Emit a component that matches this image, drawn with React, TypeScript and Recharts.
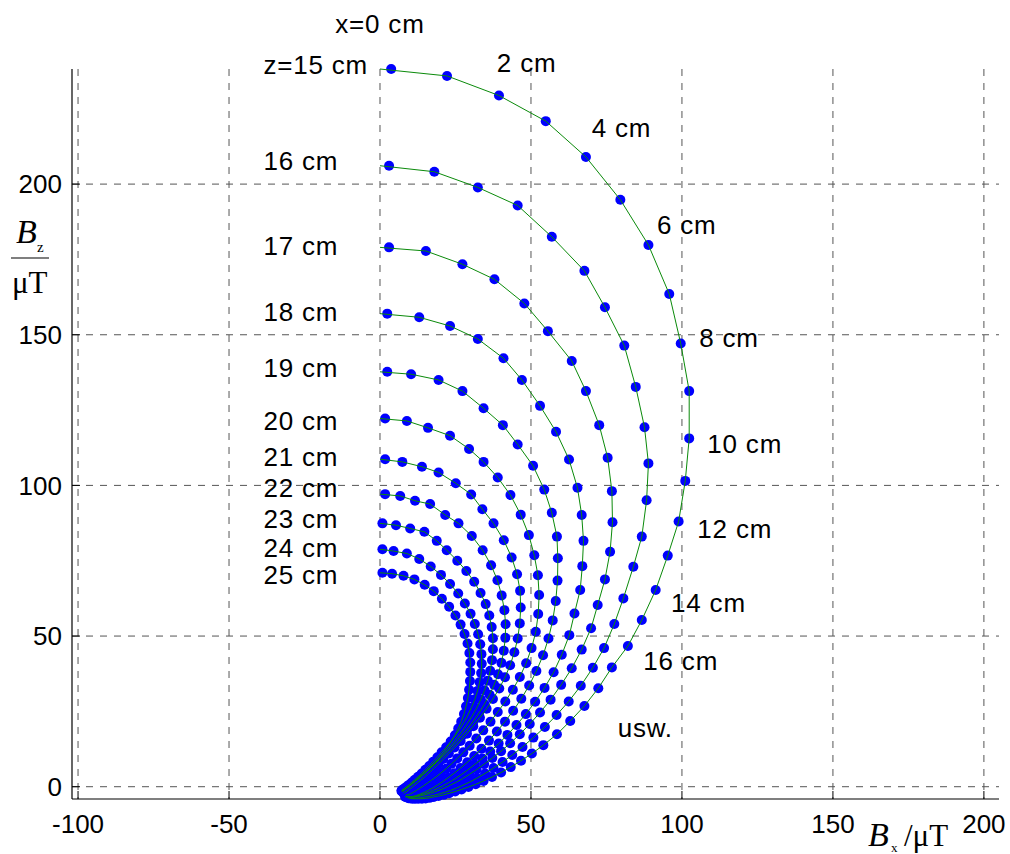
import React from 'react';
import { ScatterChart, Scatter, XAxis, YAxis, CartesianGrid, ReferenceDot } from 'recharts';

// Bx / Bz (µT) measured at x = 0, 1, 2, ... cm for each height z
const z15: number[][] = [[3.7,238.2],[22.2,235.9],[39.4,229.4],[54.9,220.9],[68.2,209.0],[79.6,194.8],[88.9,179.8],[95.8,163.5],[99.6,147.1],[102.4,131.3],[102.4,115.6],[101.1,101.5],[98.9,88.0],[95.3,76.7],[91.3,65.3],[86.7,55.3],[82.1,46.7],[76.8,39.6],[72.3,32.7],[67.7,26.8],[63.0,21.8],[58.6,17.4],[54.1,13.8],[50.3,11.0],[46.7,8.6],[43.3,6.5],[40.1,4.7],[37.1,3.2],[34.3,1.9],[31.7,0.8],[29.3,-0.1],[27.0,-0.9],[24.9,-1.6],[22.9,-2.2],[21.1,-2.7],[19.4,-3.1],[17.8,-3.4],[16.4,-3.7],[15.1,-3.9],[13.9,-4.0],[12.8,-4.0],[11.8,-4.0],[10.9,-4.0],[10.1,-3.9],[9.4,-3.8]];
const z16: number[][] = [[3.0,206.1],[18.0,204.1],[32.4,198.9],[45.6,192.9],[56.9,182.5],[67.7,171.2],[74.5,159.1],[80.9,146.4],[84.7,132.7],[87.6,119.3],[88.9,107.3],[88.3,95.1],[86.7,83.0],[83.9,73.0],[80.6,62.5],[77.6,54.0],[74.2,46.0],[70.5,39.5],[66.5,33.5],[62.5,28.3],[58.5,23.8],[54.6,19.8],[50.8,16.3],[47.2,13.2],[43.8,10.5],[40.6,8.2],[37.6,6.2],[34.8,4.4],[32.2,2.9],[29.8,1.6],[27.5,0.5],[25.4,-0.4],[23.4,-1.2],[21.6,-1.8],[19.9,-2.3],[18.3,-2.7],[16.9,-3.0],[15.6,-3.3],[14.4,-3.5],[13.3,-3.7],[12.3,-3.8],[11.4,-3.8],[10.6,-3.8],[9.9,-3.7]];
const z17: number[][] = [[3.0,179.0],[15.2,177.8],[27.3,173.4],[37.9,168.4],[47.8,160.4],[55.6,151.2],[63.5,141.3],[68.2,131.3],[72.6,120.0],[75.4,109.2],[76.8,98.1],[77.0,87.8],[76.2,78.0],[74.5,68.8],[72.1,60.3],[69.9,52.6],[66.8,45.5],[63.5,39.3],[60.0,33.8],[56.5,28.9],[53.0,24.6],[49.6,20.8],[46.3,17.4],[43.1,14.4],[40.1,11.8],[37.2,9.5],[34.5,7.5],[32.0,5.7],[29.6,4.1],[27.4,2.7],[25.3,1.5],[23.3,0.5],[21.5,-0.4],[19.8,-1.1],[18.2,-1.7],[16.7,-2.2],[15.3,-2.6],[14.0,-2.9],[12.8,-3.2],[11.7,-3.4],[10.7,-3.5],[9.8,-3.5],[9.0,-3.5]];
const z18: number[][] = [[2.4,157.0],[13.0,155.8],[23.2,152.9],[32.4,148.6],[40.9,142.2],[47.0,135.0],[53.0,126.4],[58.3,117.8],[62.6,108.6],[65.4,99.2],[66.8,90.2],[67.4,81.6],[67.0,73.2],[66.3,65.3],[64.4,57.5],[62.7,50.3],[60.2,43.8],[57.5,38.0],[54.5,32.8],[51.4,28.2],[48.3,24.1],[45.2,20.5],[42.2,17.2],[39.3,14.3],[36.5,11.7],[33.9,9.4],[31.4,7.4],[29.1,5.6],[26.9,4.0],[24.8,2.6],[22.8,1.4],[21.0,0.4],[19.3,-0.5],[17.7,-1.2],[16.2,-1.8],[14.8,-2.3],[13.5,-2.7],[12.3,-3.0],[11.2,-3.3],[10.2,-3.4],[9.3,-3.4],[8.5,-3.4]];
const z19: number[][] = [[2.4,137.7],[10.3,136.9],[19.4,135.0],[27.3,131.3],[34.3,125.6],[40.7,120.0],[45.6,113.6],[50.7,106.5],[54.4,98.6],[56.9,90.9],[58.6,83.0],[58.9,75.8],[58.8,68.4],[58.2,61.6],[57.2,55.2],[55.8,49.2],[54.0,43.6],[51.8,38.4],[49.4,33.6],[46.8,29.2],[44.1,25.2],[41.4,21.6],[38.7,18.3],[36.1,15.3],[33.6,12.6],[31.2,10.2],[28.9,8.1],[26.7,6.2],[24.6,4.5],[22.6,3.0],[20.8,1.7],[19.1,0.6],[17.5,-0.4],[16.0,-1.2],[14.6,-1.9],[13.3,-2.4],[12.1,-2.9],[11.0,-3.2],[10.0,-3.3],[9.1,-3.3],[8.3,-3.3]];
const z20: number[][] = [[1.7,122.2],[8.9,121.4],[15.9,119.1],[23.2,116.5],[29.5,112.1],[34.3,107.8],[39.0,102.6],[43.2,96.8],[46.6,90.3],[49.3,83.5],[51.1,76.8],[52.3,70.2],[52.7,63.6],[52.4,57.3],[51.6,51.4],[50.2,46.0],[48.4,41.0],[46.3,36.4],[44.0,32.2],[41.5,28.3],[39.0,24.8],[36.6,21.6],[34.2,18.7],[31.9,16.0],[29.7,13.6],[27.6,11.4],[25.6,9.4],[23.7,7.6],[21.9,6.0],[20.2,4.6],[18.6,3.3],[17.1,2.2],[15.7,1.2],[14.4,0.3],[13.2,-0.5],[12.1,-1.2],[11.1,-1.8],[10.2,-2.3],[9.4,-2.6],[8.6,-2.8]];
const z21: number[][] = [[1.7,108.7],[7.4,107.8],[13.9,106.2],[19.4,104.3],[25.1,100.7],[30.2,97.0],[33.9,92.1],[37.6,87.4],[41.0,81.8],[43.6,76.1],[45.4,70.5],[46.4,65.0],[46.6,59.5],[46.3,54.2],[45.6,49.2],[44.5,44.6],[43.1,40.3],[41.4,36.3],[39.5,32.6],[37.4,29.1],[35.3,25.9],[33.1,22.9],[30.9,20.1],[28.8,17.6],[26.7,15.2],[24.7,13.0],[22.8,11.0],[21.0,9.2],[19.3,7.5],[17.7,6.0],[16.2,4.6],[14.8,3.3],[13.5,2.2],[12.3,1.2],[11.2,0.3],[10.2,-0.5],[9.3,-1.2],[8.5,-1.8],[7.8,-2.2]];
const z22: number[][] = [[1.7,97.1],[6.7,96.5],[11.6,94.9],[16.6,93.8],[21.6,90.2],[26.0,87.4],[30.4,83.2],[34.0,78.5],[36.8,73.5],[38.9,68.5],[40.3,63.5],[41.2,58.6],[41.6,53.9],[41.5,49.4],[41.0,45.1],[40.2,41.1],[39.1,37.3],[37.8,33.8],[36.3,30.5],[34.6,27.4],[32.8,24.5],[31.0,21.8],[29.1,19.3],[27.2,17.0],[25.4,14.9],[23.6,12.9],[21.9,11.1],[20.2,9.4],[18.6,7.9],[17.1,6.5],[15.7,5.2],[14.3,4.0],[13.1,2.9],[11.9,1.9],[10.8,1.0],[9.8,0.2],[8.9,-0.5],[8.1,-1.1],[7.4,-1.6]];
const z23: number[][] = [[0.8,87.4],[5.3,86.8],[10.0,85.7],[14.7,84.6],[18.8,81.6],[22.1,78.5],[25.6,75.0],[28.6,71.6],[31.2,68.0],[33.3,64.3],[35.0,60.6],[36.2,56.8],[37.0,53.0],[37.4,49.3],[37.4,45.6],[37.1,42.0],[36.5,38.5],[35.7,35.2],[34.6,32.0],[33.4,29.0],[32.0,26.1],[30.5,23.4],[28.9,20.9],[27.3,18.5],[25.6,16.3],[24.0,14.2],[22.4,12.3],[20.8,10.6],[19.3,9.0],[17.9,7.5],[16.5,6.1],[15.2,4.9],[14.0,3.7],[12.8,2.7],[11.7,1.8],[10.7,0.9],[9.7,0.1],[8.8,-0.6],[8.0,-1.2],[7.3,-1.6]];
const z24: number[][] = [[0.8,78.8],[4.5,78.2],[8.9,77.4],[13.0,75.6],[16.8,73.1],[20.2,70.3],[23.2,67.3],[25.9,64.1],[28.1,60.8],[30.0,57.4],[31.4,54.0],[32.5,50.6],[33.2,47.3],[33.6,44.0],[33.7,40.8],[33.5,37.7],[33.0,34.7],[32.3,31.8],[31.4,29.0],[30.3,26.3],[29.1,23.8],[27.8,21.4],[26.4,19.1],[24.9,17.0],[23.4,15.0],[21.9,13.1],[20.4,11.4],[19.0,9.8],[17.6,8.3],[16.3,6.9],[15.0,5.6],[13.8,4.4],[12.6,3.3],[11.5,2.3],[10.5,1.4],[9.6,0.6],[8.7,-0.1],[7.9,-0.7],[7.2,-1.2]];
const z25: number[][] = [[0.8,71.0],[4.0,70.7],[7.8,70.0],[11.4,68.8],[14.8,67.0],[17.8,64.9],[20.5,62.4],[22.9,59.7],[25.0,56.8],[26.7,53.8],[28.0,50.7],[29.0,47.5],[29.6,44.4],[29.9,41.2],[29.9,38.1],[29.8,35.1],[29.5,32.2],[29.1,29.4],[28.5,26.7],[27.8,24.1],[26.9,21.6],[25.9,19.3],[24.8,17.1],[23.6,15.0],[22.3,13.1],[21.0,11.3],[19.6,9.6],[18.2,8.1],[16.8,6.7],[15.4,5.4],[14.1,4.2],[12.8,3.1],[11.6,2.1],[10.5,1.2],[9.5,0.4],[8.6,-0.3],[7.8,-0.9],[7.1,-1.4]];

const curves: number[][][] = [z15, z16, z17, z18, z19, z20, z21, z22, z23, z24, z25];

// tick values
const xTicks = [-100, -50, 0, 50, 100, 150, 200];
const yTicks = [0, 50, 100, 150, 200];
const xDomain = [-102, 205];
const yDomain = [-4.08, 238.2];

// annotation texts (baseline-left anchor in data units)
const annText: string[] = ['x=0 cm', 'z=15 cm', '16 cm', '17 cm', '18 cm', '19 cm', '20 cm', '21 cm', '22 cm', '23 cm', '24 cm', '25 cm', '2 cm', '4 cm', '6 cm', '8 cm', '10 cm', '12 cm', '14 cm', '16 cm', 'usw.'];
const annX: number[] = [-14.8, -38.6, -38.6, -38.6, -38.6, -38.6, -38.6, -38.6, -38.6, -38.6, -38.6, -38.6, 38.7, 70.1, 91.7, 105.7, 108.4, 105.1, 96.4, 87.2, 78.7];
const annY: number[] = [250.0, 236.5, 204.6, 176.4, 154.4, 136.1, 118.5, 106.3, 96.0, 85.7, 76.4, 67.4, 237.3, 215.7, 183.6, 146.0, 110.6, 82.4, 58.1, 38.7, 16.6];

const SANS = 'Liberation Sans, Arial, Helvetica, sans-serif';
const SERIF = 'Liberation Serif, Times New Roman, serif';

const toPts = (arr: number[][]) => arr.map(([x, y]) => ({ x, y }));
const toLine = (arr: number[][]) => [{ x: 0, y: arr[0][1] }, ...arr.slice(1).map(([x, y]) => ({ x, y }))];

const Dot = (p: any) => <circle cx={p.cx} cy={p.cy} r={5} fill="#0000ff" />;
const NoDot = () => <g />;

const YTitle = () => (
  <g>
    <text x={16} y={243} fontFamily={SERIF} fontStyle="italic" fontSize={34} fill="#000">B</text>
    <text x={37} y={252} fontFamily={SERIF} fontSize={15} fill="#000">z</text>
    <line x1={11} x2={49} y1={258} y2={258} stroke="#000" strokeWidth={1.2} />
    <text x={12} y={293} fontFamily={SERIF} fontSize={31} fill="#000">μT</text>
  </g>
);

const XTitle = () => (
  <g>
    <text x={868} y={846} fontFamily={SERIF} fontStyle="italic" fontSize={34} fill="#000">B</text>
    <text x={891} y={852} fontFamily={SERIF} fontSize={13} fill="#000">x</text>
    <text x={904} y={846} fontFamily={SERIF} fontSize={31} fill="#000">/μT</text>
  </g>
);

export default function App() {
  return (
    <div style={{ position: 'absolute', left: 0, top: 0, width: 1010, height: 854, background: '#fff' }}>
      <ScatterChart width={1010} height={854} margin={{ top: 69, right: 11, left: 12, bottom: 0 }}>
        <CartesianGrid stroke="#555" strokeDasharray="7 7" horizontalValues={yTicks} verticalValues={xTicks} />
        <XAxis
          type="number"
          dataKey="x"
          domain={xDomain}
          ticks={xTicks}
          height={55}
          tickSize={-8}
          tickMargin={24}
          axisLine={{ stroke: '#000', strokeWidth: 1.2 }}
          tickLine={{ stroke: '#000' }}
          tick={{ fontSize: 26, fill: '#000', fontFamily: SANS }}
          interval={0}
          label={(props: any) => <XTitle />}
        />
        <YAxis
          type="number"
          dataKey="y"
          domain={yDomain}
          ticks={yTicks}
          width={60}
          tickSize={-8}
          tickMargin={18}
          axisLine={{ stroke: '#000', strokeWidth: 1.2 }}
          tickLine={{ stroke: '#000' }}
          tick={{ fontSize: 26, fill: '#000', fontFamily: SANS }}
          interval={0}
          label={(props: any) => <YTitle />}
        />
        {curves.map((c, i) => (
          <Scatter key={'d' + i} data={toPts(c)} shape={Dot} isAnimationActive={false} />
        ))}
        {curves.map((c, i) => (
          <Scatter
            key={'l' + i}
            data={toLine(c)}
            shape={NoDot}
            line={{ stroke: '#0a8a0a', strokeWidth: 1 }}
            lineType="joint"
            isAnimationActive={false}
          />
        ))}
        {annText.map((t, i) => (
          <ReferenceDot
            key={'a' + i}
            x={annX[i]}
            y={annY[i]}
            ifOverflow="visible"
            shape={(p: any) => (
              <text x={p.cx} y={p.cy} fontFamily={SANS} fontSize={26} letterSpacing={0.8} fill="#000">{t}</text>
            )}
          />
        ))}
      </ScatterChart>
    </div>
  );
}
